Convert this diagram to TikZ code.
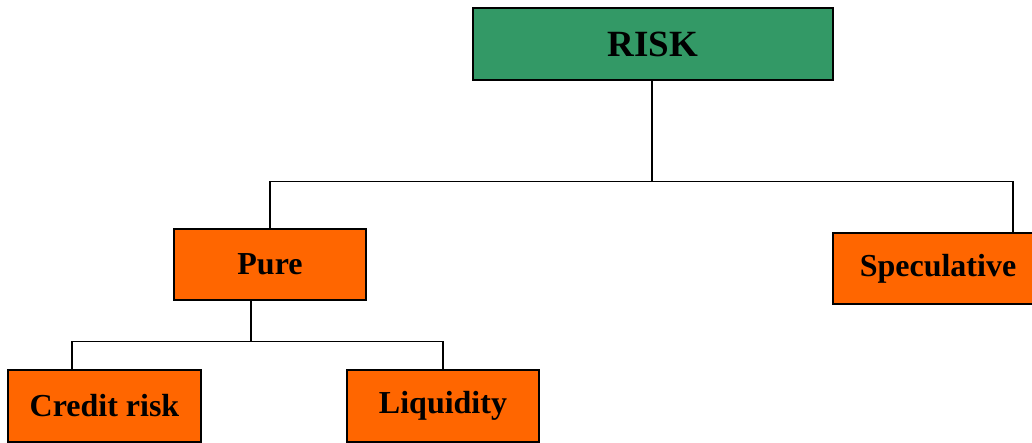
\documentclass[tikz,border=0pt]{standalone}
\usepackage{fontspec}
\setmainfont{Liberation Serif}
\usepackage{xcolor}
\usepackage{tikz}
\usetikzlibrary{positioning}
\definecolor{riskgreen}{HTML}{339966}
\definecolor{branchorange}{HTML}{FF6600}

\begin{document}
\begin{tikzpicture}[
    x=1pt, y=1pt,
    root/.style={rectangle, draw=black, line width=1.3pt, fill=riskgreen, minimum width=360pt, minimum height=72pt, font=\fontsize{37}{41}\selectfont\bfseries},
    branch/.style={rectangle, draw=black, line width=1.3pt, fill=branchorange, minimum height=71pt, font=\fontsize{32}{37}\selectfont\bfseries},
    link/.style={line width=1.3pt, color=black}
]
    \useasboundingbox (0,0) rectangle (1032,443);
    \node[root] (risk) at (653,399) {RISK};
    \node[branch, minimum width=192pt] (pure) at (270,178.5) {Pure};
    \node[branch, minimum width=210pt] (spec) at (938,174.5) {Speculative};
    \node[branch, minimum width=193pt, minimum height=72pt] (credit) at (104.5,37) {Credit risk};
    \node[branch, minimum width=192pt, minimum height=72pt] (liquid) at (443,37) {Liquidity};

    \draw[link] ([xshift=-1pt]risk.south) -- ++(0,-101) coordinate (split) -| (pure.north);
    \draw[link] (split) -| ([xshift=75pt]spec.north);
    \draw[link] ([xshift=-19pt]pure.south) -- ++(0,-41) coordinate (subsplit) -| ([xshift=-32.5pt]credit.north);
    \draw[link] (subsplit) -| (liquid.north);
\end{tikzpicture}
\end{document}
